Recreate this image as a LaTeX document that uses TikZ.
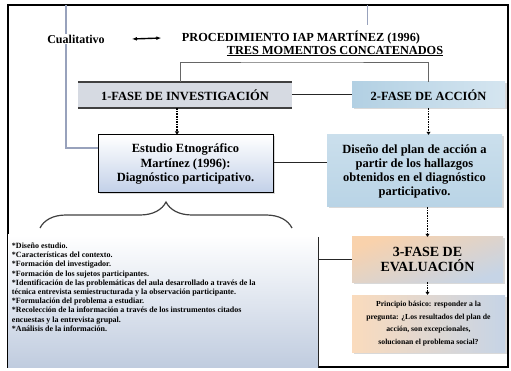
\documentclass[tikz,border=0pt]{standalone}
\usepackage{fontspec}
\setmainfont{Liberation Serif}
\usetikzlibrary{arrows.meta,decorations.pathreplacing,shadows}

\definecolor{fasegris}{HTML}{D6DAE2}
\definecolor{faseazul}{HTML}{B2D0E3}
\definecolor{celeste}{HTML}{B9D4E6}
\definecolor{azulclaro}{HTML}{C2D0E8}
\definecolor{naranja}{HTML}{F9D2AC}
\definecolor{grisazul}{HTML}{C6D4E6}
\definecolor{notasazul}{HTML}{C0CCDF}
\definecolor{lineagris}{HTML}{98A2BC}

\tikzset{
  caja/.style={inner sep=2pt, align=center, font=\bfseries\fontsize{12.5}{14.2}\selectfont},
  sombra/.style={drop shadow={shadow xshift=1.5pt, shadow yshift=-1.5pt, opacity=0.3}},
  flecha/.style={densely dotted, line width=1.6pt, -{Triangle[length=3pt,width=4pt]}},
  enlace/.style={line width=1pt, black!85},
}

\begin{document}
\begin{tikzpicture}[x=1pt, y=-1pt]
  \useasboundingbox (0,0) rectangle (511,371);
  \draw[line width=1.5pt] (8,5) rectangle (508,367);

  \node[caja, minimum width=214pt, minimum height=26pt, fill=fasegris] (fase1) at (185,95) {1-FASE DE INVESTIGACIÓN};
  \draw[line width=2pt, black!75] (fase1.north west) -- (fase1.north east);
  \draw[line width=2pt, black!75] (fase1.south west) -- (fase1.south east);
  \node[caja, sombra, minimum width=153pt, minimum height=26pt, left color=faseazul, right color=celeste!60] (fase2) at (428.5,95) {2-FASE DE ACCIÓN};

  \node[caja, sombra, draw=black, line width=1pt, minimum width=175pt, minimum height=58pt, top color=white, bottom color=azulclaro] (estudio) at (185.5,164) {Estudio Etnográfico\\ Martínez (1996):\\ Diagnóstico participativo.};
  \node[caja, sombra, minimum width=175pt, minimum height=72pt, top color=celeste!75, bottom color=celeste, font=\bfseries\fontsize{12.5}{14}\selectfont] (diseno) at (414.5,171) {Diseño del plan de acción a\\ partir de los hallazgos\\ obtenidos en el diagnóstico\\ participativo.};

  \node[minimum width=310pt, minimum height=132pt, top color=white, bottom color=notasazul, inner sep=0pt] (notas) at (163,301) {};
  \node[anchor=north west, align=left, inner sep=0pt, font=\bfseries\fontsize{8}{9.2}\selectfont] (lista) at ([shift={(4,8)}]notas.north west) {*Diseño estudio.\\
  *Características del contexto.\\
  *Formación del investigador.\\
  *Formación de los sujetos participantes.\\
  *Identificación de las problemáticas del aula desarrollado a través de la\\
  técnica entrevista semiestructurada y la observación participante.\\
  *Formulación del problema a estudiar.\\
  *Recolección de la información a través de los instrumentos citados\\
  encuestas y la entrevista grupal.\\
  *Análisis de la información.};
  \draw[enlace] ([yshift=-2pt]notas.north east) -- (notas.south east);

  \node[caja, sombra, minimum width=151pt, minimum height=45pt, top color=naranja, bottom color=grisazul, shading angle=20, font=\bfseries\fontsize{14}{14.5}\selectfont] (fase3) at (427.5,259.5) {3-FASE DE\\ EVALUACIÓN};
  \node[caja, sombra, minimum width=153pt, minimum height=57pt, left color=naranja!80, right color=grisazul, font=\bfseries\fontsize{7.7}{12.7}\selectfont] (principio) at (428.5,323.5) {Principio básico: responder a la\\ pregunta: ¿Los resultados del plan de\\ acción, son excepcionales,\\ solucionan el problema social?};

  \coordinate (ti) at (66,5);
  \coordinate (td) at (367,5);
  \coordinate (tdfin) at (367,25);
  \coordinate (arriba) at (300,62);
  \coordinate (bi) at (40,228);
  \coordinate (bd) at (292,228);

  \draw[lineagris, line width=1.5pt] (ti) |- ([yshift=16pt]estudio.west);
  \draw[lineagris, line width=1pt] (td) -- (tdfin);
  \draw[black!60, line width=0.8pt] ([xshift=-5pt]fase1.north) |- (arriba) -| (fase2.north);
  \draw[enlace] (fase1.east) -- (fase2.west);
  \draw[enlace] ([yshift=1pt]estudio.east) -- ([yshift=1pt]estudio.east -| diseno.west);
  \draw[enlace] (notas.east |- fase3.west) -- (fase3.west);
  \draw[decorate, decoration={brace, amplitude=26pt}, line width=1.2pt, black!75] (bi) -- (bd);

  \draw[flecha] ([xshift=-8pt]fase1.south) -- ([xshift=-8pt]fase1.south |- estudio.north);
  \draw[flecha] (fase2.south) -- (fase2.south |- diseno.north);
  \draw[flecha] (fase3.north |- diseno.south) -- (fase3.north);
  \draw[flecha] (fase3.south) -- (fase3.south |- principio.north);

  \node[font=\bfseries\fontsize{12}{14}\selectfont, fill=white, inner sep=1pt] (cual) at (76,39) {Cualitativo};
  \node[font=\bfseries\fontsize{12.3}{14}\selectfont] (proc) at (301,38) {PROCEDIMIENTO IAP MARTÍNEZ (1996)};
  \node[below of=proc, node distance=13pt, xshift=34pt, font=\bfseries\fontsize{12.3}{14}\selectfont] (tres) {\underline{TRES MOMENTOS CONCATENADOS}};
  \draw[{Latex[length=5pt]}-{Latex[length=5pt]}, line width=1.4pt] ([xshift=26pt]cual.east) -- ([xshift=-17pt]proc.west);
\end{tikzpicture}
\end{document}
